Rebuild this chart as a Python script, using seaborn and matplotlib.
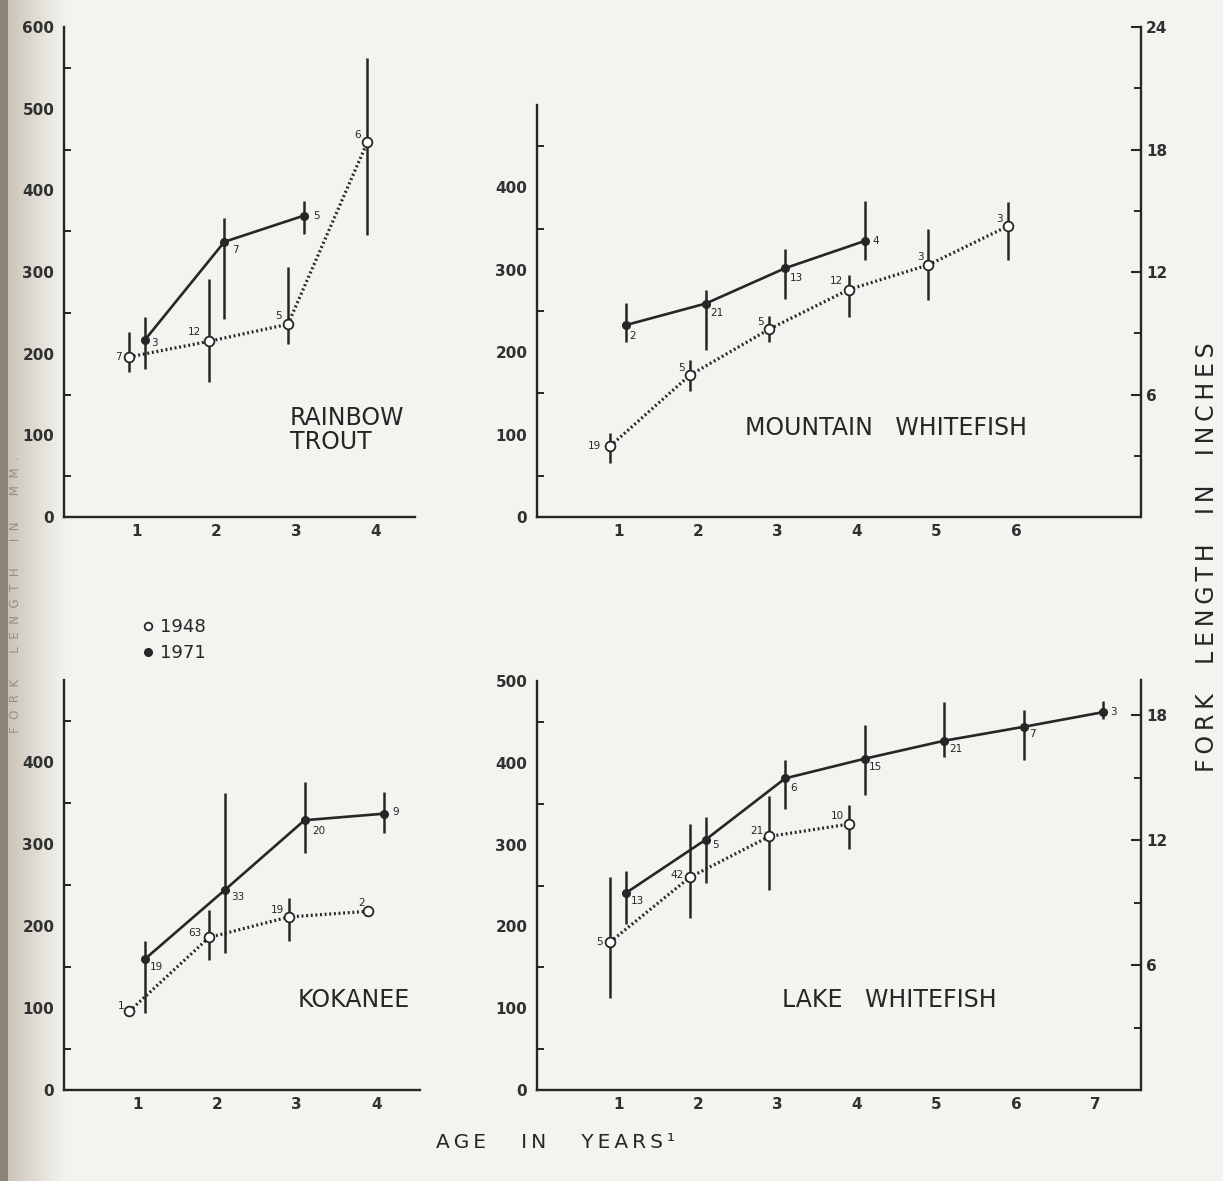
import numpy as np
import pandas as pd
import matplotlib
matplotlib.use("Agg")
import matplotlib.pyplot as plt
from matplotlib.lines import Line2D
from matplotlib.ticker import FixedLocator
import seaborn as sns

# ---------------- data ----------------
# Rainbow trout
rt_age_48 = [1, 2, 3, 4]
rt_mean_48 = [196, 215, 236, 459]
rt_lo_48 = [178, 165, 212, 345]
rt_hi_48 = [226, 292, 306, 562]
rt_n_48 = [7, 12, 5, 6]
rt_age_71 = [1, 2, 3]
rt_mean_71 = [217, 337, 369]
rt_lo_71 = [181, 242, 346]
rt_hi_71 = [245, 366, 387]
rt_n_71 = [3, 7, 5]

# Mountain whitefish
mw_age_48 = [1, 2, 3, 4, 5, 6]
mw_mean_48 = [86, 172, 228, 276, 306, 353]
mw_lo_48 = [66, 153, 212, 243, 263, 312]
mw_hi_48 = [102, 191, 244, 294, 350, 382]
mw_n_48 = [19, 5, 5, 12, 3, 3]
mw_age_71 = [1, 2, 3, 4]
mw_mean_71 = [233, 259, 302, 335]
mw_lo_71 = [212, 203, 265, 312]
mw_hi_71 = [260, 275, 325, 383]
mw_n_71 = [2, 21, 13, 4]

# Kokanee
ko_age_48 = [1, 2, 3, 4]
ko_mean_48 = [96, 186, 211, 218]
ko_lo_48 = [np.nan, 159, 182, np.nan]
ko_hi_48 = [np.nan, 220, 234, np.nan]
ko_n_48 = [1, 63, 19, 2]
ko_age_71 = [1, 2, 3, 4]
ko_mean_71 = [160, 244, 329, 337]
ko_lo_71 = [94, 167, 289, 313]
ko_hi_71 = [182, 362, 376, 364]
ko_n_71 = [19, 33, 20, 9]

# Lake whitefish
lw_age_48 = [1, 2, 3, 4]
lw_mean_48 = [181, 260, 310, 325]
lw_lo_48 = [113, 210, 245, 295]
lw_hi_48 = [261, 325, 360, 348]
lw_n_48 = [5, 42, 21, 10]
lw_age_71 = [1, 2, 3, 4, 5, 6, 7]
lw_mean_71 = [241, 306, 381, 405, 427, 444, 462]
lw_lo_71 = [203, 253, 343, 361, 407, 404, 454]
lw_hi_71 = [268, 334, 403, 446, 474, 465, 476]
lw_n_71 = [13, 5, 6, 15, 21, 7, 3]

titles = ["RAINBOW\nTROUT", "MOUNTAIN   WHITEFISH", "KOKANEE", "LAKE   WHITEFISH"]
legend_labels = ["1948", "1971"]
x_title = "AGE   IN   YEARS\u00b9"
y_title_right = "FORK  LENGTH  IN  INCHES"
y_title_left = ["FORK", "LENGTH", "IN", "MM."]

# ---------------- styling ----------------
sns.set_style("white")
plt.rcParams['font.family'] = ['DejaVu Sans']
INK = "#262626"
PAPER = "#f4f3ef"

W, H = 1223, 1181
fig = plt.figure(figsize=(W / 100, H / 100), dpi=100)
fig.patch.set_facecolor(PAPER)

# page gutter shading on the left
bg = fig.add_axes([0, 0, 1, 1], zorder=-10)
xs = np.arange(W)
shade = np.clip(1 - xs / 68.0, 0, 1) ** 1.2
base = np.array([0xf4, 0xf3, 0xef]) / 255.0
dark = np.array([0xc4, 0xbc, 0xae]) / 255.0
img = base[None, :] * (1 - shade[:, None]) + dark[None, :] * shade[:, None]
img[:8] = np.array([0x8c, 0x84, 0x78]) / 255.0
bg.imshow(img[None, :, :], aspect='auto', extent=[0, 1, 0, 1])
bg.set_axis_off()


def spaced(s):
    # thin spaces between letters to imitate the wide lettering
    return "\u2009".join(s)


def rect(l, r, t, b):
    return [l / W, 1 - b / H, (r - l) / W, (b - t) / H]


def style_axes(ax, xlim, ylim, xticks, ymajor, ylabels_max):
    ax.set_facecolor('none')
    ax.set_xlim(*xlim)
    ax.set_ylim(*ylim)
    for s in ['top', 'right']:
        ax.spines[s].set_visible(False)
    for s in ['left', 'bottom']:
        ax.spines[s].set_linewidth(1.7)
        ax.spines[s].set_color(INK)
    ax.xaxis.set_major_locator(FixedLocator(xticks))
    ax.set_xticklabels([str(t) for t in xticks])
    ymajor = list(ymajor)
    ax.yaxis.set_major_locator(FixedLocator(ymajor))
    ax.yaxis.set_minor_locator(FixedLocator([v + 50 for v in ymajor[:-1]]))
    ax.set_yticklabels([str(v) if v <= ylabels_max else "" for v in ymajor])
    ax.tick_params(axis='both', which='major', direction='in', length=7,
                   width=1.5, color=INK, labelsize=11, labelcolor="#303030")
    ax.tick_params(axis='y', which='minor', direction='in', length=5,
                   width=1.4, color=INK, left=True)
    ax.tick_params(axis='y', which='major', pad=7)
    ax.tick_params(axis='x', which='major', pad=5)
    for lab in ax.get_xticklabels() + ax.get_yticklabels():
        lab.set_fontweight('bold')
    ax.set_xlabel("")
    ax.set_ylabel("")


def draw_series(ax, ages, mean, lo, hi, n, year, offs):
    shift = -0.1 if year == 1948 else 0.1
    xpos = np.array(ages, dtype=float) + shift
    df = pd.DataFrame({"age": xpos, "len": mean})
    ax.vlines(xpos, lo, hi, color=INK, lw=1.8, zorder=2)
    if year == 1948:
        sns.lineplot(data=df, x="age", y="len", ax=ax, color=INK, lw=2.3,
                     linestyle=(0, (0.6, 0.85)), marker='o', markersize=7,
                     markerfacecolor="white", markeredgecolor=INK,
                     markeredgewidth=1.3, sort=False, estimator=None,
                     zorder=3)
    else:
        sns.lineplot(data=df, x="age", y="len", ax=ax, color=INK, lw=1.9,
                     linestyle='-', marker='o', markersize=5.5,
                     markerfacecolor=INK, markeredgecolor=INK,
                     markeredgewidth=1, sort=False, estimator=None, zorder=3)
    for x, y, k, (dx, dy) in zip(xpos, mean, n, offs):
        ax.annotate(str(k), (x, y), xytext=(dx, dy), textcoords='offset points',
                    ha='center', va='center', fontsize=7.5, color=INK)


# ---------- Rainbow trout ----------
ax1 = fig.add_axes(rect(64, 415, 27, 517))
draw_series(ax1, rt_age_48, rt_mean_48, rt_lo_48, rt_hi_48, rt_n_48, 1948,
            [(-8, 0), (-10, 7), (-7, 6), (-7, 5)])
draw_series(ax1, rt_age_71, rt_mean_71, rt_lo_71, rt_hi_71, rt_n_71, 1971,
            [(7, -2), (8, -6), (9, 0)])
style_axes(ax1, (0.08, 4.5), (0, 600), [1, 2, 3, 4], range(0, 601, 100), 600)

# ---------- Mountain whitefish ----------
ax2 = fig.add_axes(rect(537, 1140, 105, 517))
draw_series(ax2, mw_age_48, mw_mean_48, mw_lo_48, mw_hi_48, mw_n_48, 1948,
            [(-11, 0), (-6, 5), (-6, 5), (-9, 6), (-6, 6), (-6, 5)])
draw_series(ax2, mw_age_71, mw_mean_71, mw_lo_71, mw_hi_71, mw_n_71, 1971,
            [(5, -8), (8, -7), (8, -7), (8, 0)])
style_axes(ax2, (-0.02, 7.56), (0, 500), [1, 2, 3, 4, 5, 6], range(0, 501, 100), 400)

# ---------- Kokanee ----------
ax3 = fig.add_axes(rect(64, 420, 680, 1090))
draw_series(ax3, ko_age_48, ko_mean_48, ko_lo_48, ko_hi_48, ko_n_48, 1948,
            [(-6, 4), (-10, 3), (-8, 5), (-5, 6)])
draw_series(ax3, ko_age_71, ko_mean_71, ko_lo_71, ko_hi_71, ko_n_71, 1971,
            [(8, -6), (9, -5), (10, -8), (8, 1)])
style_axes(ax3, (0.08, 4.55), (0, 500), [1, 2, 3, 4], range(0, 501, 100), 400)

# ---------- Lake whitefish ----------
ax4 = fig.add_axes(rect(537, 1140, 681, 1090))
draw_series(ax4, lw_age_48, lw_mean_48, lw_lo_48, lw_hi_48, lw_n_48, 1948,
            [(-8, 0), (-9, 2), (-9, 4), (-8, 6)])
draw_series(ax4, lw_age_71, lw_mean_71, lw_lo_71, lw_hi_71, lw_n_71, 1971,
            [(8, -6), (7, -4), (6, -7), (8, -6), (8, -6), (6, -5), (7, 0)])
style_axes(ax4, (-0.02, 7.56), (0, 500), [1, 2, 3, 4, 5, 6, 7], range(0, 501, 100), 500)

# panel titles
TFS = 17
ax1.text(0.644, 0.178, titles[0], transform=ax1.transAxes, ha='left',
         va='center', fontsize=TFS, color=INK, linespacing=1.0,
         multialignment='left')
ax2.text(0.579, 0.216, titles[1], transform=ax2.transAxes, ha='center',
         va='center', fontsize=TFS, color=INK)
ax3.text(0.815, 0.22, titles[2], transform=ax3.transAxes, ha='center',
         va='center', fontsize=TFS, color=INK)
ax4.text(0.584, 0.22, titles[3], transform=ax4.transAxes, ha='center',
         va='center', fontsize=TFS, color=INK)


# ---------- inch axes on the right ----------
def inch_axis(t, b, top_in, majors, minors):
    ax = fig.add_axes(rect(1140, 1140.5, t, b))
    ax.set_facecolor('none')
    ax.set_ylim(0, top_in)
    ax.set_xticks([])
    for s in ['left', 'top', 'bottom']:
        ax.spines[s].set_visible(False)
    ax.spines['right'].set_linewidth(1.7)
    ax.spines['right'].set_color(INK)
    ax.yaxis.tick_right()
    ax.yaxis.set_major_locator(FixedLocator(majors))
    ax.yaxis.set_minor_locator(FixedLocator(minors))
    ax.set_yticklabels([str(m) for m in majors])
    ax.tick_params(axis='y', which='major', direction='in', length=7, width=1.5,
                   color=INK, labelsize=11, labelcolor="#303030", pad=4)
    ax.tick_params(axis='y', which='minor', direction='in', length=5,
                   width=1.4, color=INK)
    for lab in ax.get_yticklabels():
        lab.set_fontweight('bold')
    return ax


inch_axis(27, 517, 24, [6, 12, 18, 24], [3, 9, 15, 21])
inch_axis(680, 1090, 500 / 25.4, [6, 12, 18], [3, 9, 15])

# ---------- axis titles ----------
fig.text(1207 / W, 1 - 557 / H, spaced(y_title_right), rotation=90,
         ha='center', va='center', fontsize=17, color=INK)
fig.text(556 / W, 1 - 1142 / H, spaced(x_title), ha='center',
         va='center', fontsize=14.5, color=INK)
left_title = "       ".join("  ".join(w) for w in y_title_left)
fig.text(16 / W, 1 - 595 / H, left_title, rotation=90,
         ha='center', va='center', fontsize=8.5, color="#958f84")

# ---------- legend ----------
handles = [
    Line2D([], [], ls='none', marker='o', markersize=5.5, markerfacecolor='white',
           markeredgecolor=INK, markeredgewidth=1.3),
    Line2D([], [], ls='none', marker='o', markersize=5.5, markerfacecolor=INK,
           markeredgecolor=INK),
]
fig.legend(handles, legend_labels, loc='center left',
           bbox_to_anchor=(126 / W, 1 - 640 / H), frameon=False, fontsize=13,
           handlelength=0.6, handletextpad=0.4, labelspacing=0.45,
           labelcolor=INK)

fig.savefig("out.png", dpi=100, facecolor=fig.get_facecolor())
